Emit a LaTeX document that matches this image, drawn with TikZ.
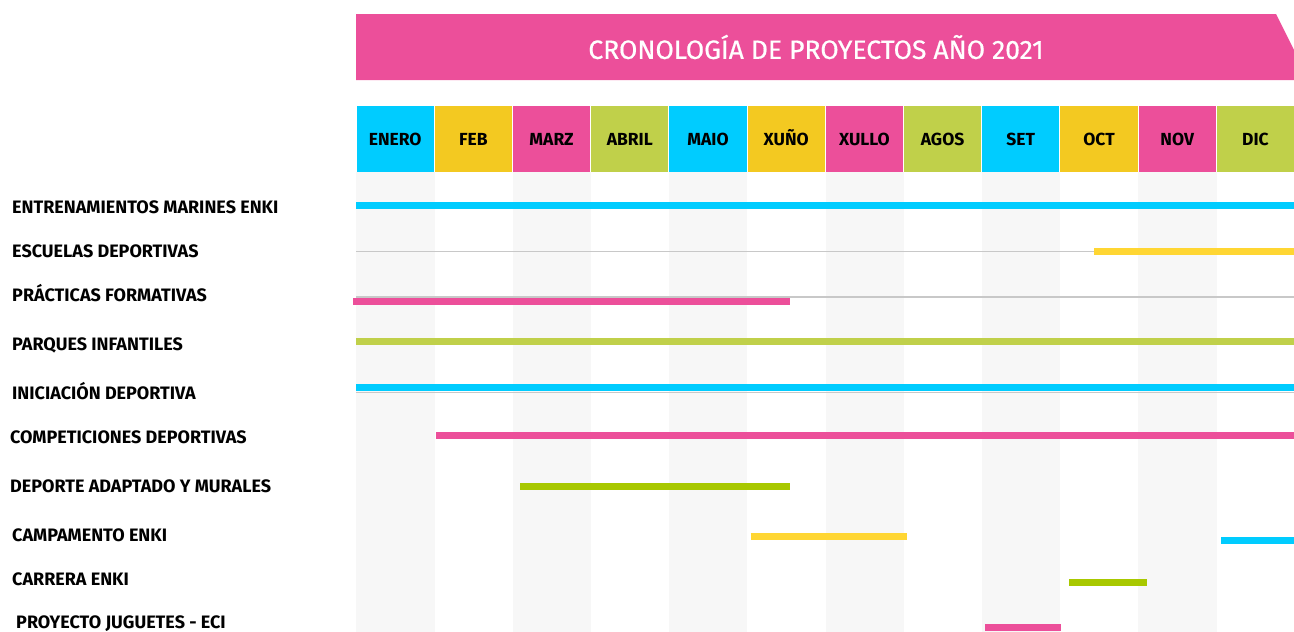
\documentclass[tikz,border=0pt]{standalone}
\usepackage{fontspec}
\setmainfont{Fira Sans}
\usepackage{tikz}

\definecolor{cian}{RGB}{0,204,255}
\definecolor{amarelo}{RGB}{243,201,33}
\definecolor{amarelob}{RGB}{255,214,51}
\definecolor{rosa}{RGB}{236,79,154}
\definecolor{verde}{RGB}{192,208,74}
\definecolor{verdeb}{RGB}{168,200,0}
\definecolor{franxa}{RGB}{247,247,247}
\definecolor{linea}{RGB}{200,200,200}

\tikzset{
  mes/.style={fill=#1, minimum width=77.2pt, minimum height=66pt, inner sep=0pt,
    text height=12pt, text depth=0pt,
    anchor=north west, font=\fontsize{17.5}{20}\selectfont\bfseries},
  proxecto/.style={anchor=west, inner sep=0pt, text height=12.4pt, text depth=0pt,
    font=\fontsize{18}{21}\selectfont\bfseries},
  barra/.style={line width=7pt},
  guia/.style={line width=1.6pt, draw=linea}
}

\begin{document}
\begin{tikzpicture}[x=1pt,y=-1pt]
\useasboundingbox (0,0) rectangle (1294,632);
\begin{scope}
\clip (0,0) rectangle (1294,632);
% franxas grises
\fill[franxa] (356.4,172) rectangle (434.6,632);
\fill[franxa] (512.8,172) rectangle (591.0,632);
\fill[franxa] (669.2,172) rectangle (747.4,632);
\fill[franxa] (825.6,172) rectangle (903.8,632);
\fill[franxa] (982.0,172) rectangle (1060.2,632);
\fill[franxa] (1138.4,172) rectangle (1216.6,632);
% titulo
\fill[rosa] (356,14) -- (1276,14) -- (1309,80) -- (356,80) -- cycle;
\node[text=white, font=\fontsize{26.5}{30}\selectfont\addfontfeature{FakeBold=0.6}] (titulo) at (816,47) {CRONOLOGÍA DE PROYECTOS AÑO 2021};
% meses
\node[mes=cian] (enero) at (356.4,106) {ENERO};
\node[mes=amarelo] (feb) at (434.6,106) {FEB};
\node[mes=rosa] (marz) at (512.8,106) {MARZ};
\node[mes=verde] (abril) at (591.0,106) {ABRIL};
\node[mes=cian] (maio) at (669.2,106) {MAIO};
\node[mes=amarelo] (xuno) at (747.4,106) {XUÑO};
\node[mes=rosa] (xullo) at (825.6,106) {XULLO};
\node[mes=verde] (agos) at (903.8,106) {AGOS};
\node[mes=cian] (set) at (982.0,106) {SET};
\node[mes=amarelo] (oct) at (1060.2,106) {OCT};
\node[mes=rosa] (nov) at (1138.4,106) {NOV};
\node[mes=verde] (dic) at (1216.6,106) {DIC};
% proxectos
\node[proxecto] (marines) at (12,207) {ENTRENAMIENTOS MARINES ENKI};
\node[proxecto] (escuelas) at (12,251) {ESCUELAS DEPORTIVAS};
\node[proxecto] (practicas) at (12,295) {PRÁCTICAS FORMATIVAS};
\node[proxecto] (parques) at (12,344) {PARQUES INFANTILES};
\node[proxecto] (iniciacion) at (12,393) {INICIACIÓN DEPORTIVA};
\node[proxecto] (competiciones) at (10,437) {COMPETICIONES DEPORTIVAS};
\node[proxecto] (adaptado) at (10,486) {DEPORTE ADAPTADO Y MURALES};
\node[proxecto] (campamento) at (12,535) {CAMPAMENTO ENKI};
\node[proxecto] (carrera) at (12,579) {CARRERA ENKI};
\node[proxecto] (xoguetes) at (16,622) {PROYECTO JUGUETES - ECI};
% barras
\draw[barra, cian] (356,205.5) -- (1294,205.5);
\draw[guia] (356,251.5) -- (1294,251.5);
\draw[barra, amarelob] (1094,251) -- (1294,251);
\draw[guia] (356,296.7) -- (1294,296.7);
\draw[barra, rosa] (353,301.5) -- (790,301.5);
\draw[barra, verde] (356,341) -- (1294,341);
\draw[guia] (356,392.5) -- (1294,392.5);
\draw[barra, cian] (356,387.5) -- (1294,387.5);
\draw[barra, rosa] (436,435.7) -- (1294,435.7);
\draw[barra, verdeb] (520,486.3) -- (790,486.3);
\draw[barra, amarelob] (750.6,536) -- (906.8,536);
\draw[barra, cian] (1221,540) -- (1294,540);
\draw[barra, verdeb] (1069,582.7) -- (1147,582.7);
\draw[barra, rosa] (985,627) -- (1061,627);
\end{scope}
\end{tikzpicture}
\end{document}
